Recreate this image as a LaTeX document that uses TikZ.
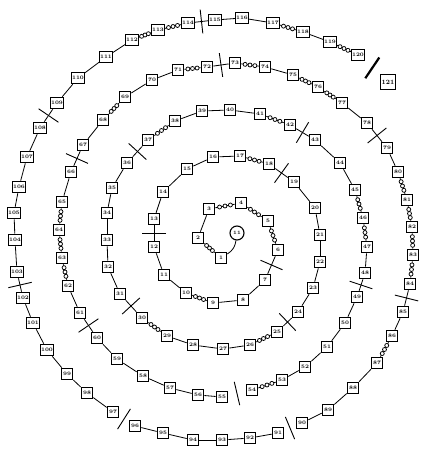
\documentclass[tikz,border=0pt]{standalone}
\begin{document}
\begin{tikzpicture}[x=1pt,y=-1pt,
  box/.style={draw,line width=1.1pt,fill=white,minimum size=11.5pt,inner sep=0.5pt,font=\fontsize{5.2}{5.5}\selectfont\bfseries},
  bigbox/.style={draw,line width=1.7pt,fill=white,minimum size=15pt,inner sep=1pt,font=\fontsize{6.5}{7}\selectfont\bfseries},
  bead/.style={draw,circle,line width=0.75pt,minimum size=4pt,inner sep=0pt,fill=white},
  link/.style={line width=0.8pt},
  tickmark/.style={pos=.5,sloped,inner sep=0pt}]
\useasboundingbox (0,0) rectangle (435,455);
% centre
\node[draw,circle,line width=1.1pt,minimum size=14pt,inner sep=0pt,font=\fontsize{5}{5}\selectfont\bfseries] (c) at (237,233) {11};
% spiral nodes
\foreach \i/\x/\y in {
 1/221/258, 2/198/238, 3/209/209, 4/241/203, 5/268/221, 6/278/250, 7/265/280, 8/243/300, 9/213/303, 10/186/293,
 11/164/275, 12/154/247, 13/154/219, 14/163/192, 15/187/169, 16/213/157, 17/240/156, 18/269/164, 19/294/182, 20/315/208,
 21/320/235, 22/320/262, 23/313/288, 24/298/312, 25/277/332, 26/250/345, 27/223/349, 28/193/345, 29/167/336, 30/142/318,
 31/120/294, 32/108/267, 33/107/240, 34/107/213, 35/112/188, 36/127/163, 37/148/140, 38/175/121, 39/202/111, 40/230/110,
 41/260/114, 42/290/125, 43/315/140, 44/340/163, 45/355/190, 46/363/218, 47/367/247, 48/365/273, 49/357/297, 50/345/323,
 51/327/347, 52/305/367, 53/282/380, 54/252/390, 55/222/397, 56/198/395, 57/170/388, 58/143/376, 59/117/359, 60/97/338,
 61/80/313, 62/68/286, 63/62/258, 64/59/230, 65/62/202, 66/71/172, 67/83/145, 68/103/120, 69/125/97, 70/152/80,
 71/178/70, 72/207/67, 73/235/63, 74/265/67, 75/293/75, 76/318/87, 77/342/103, 78/367/123, 79/387/148, 80/398/172,
 81/407/200, 82/412/227, 83/413/255, 84/410/284, 85/403/312, 86/392/336, 87/377/363, 88/353/388, 89/328/410, 90/302/423,
 91/278/433, 92/250/438, 93/222/440, 94/193/440, 95/163/433, 96/135/426, 97/113/412, 98/87/393, 99/67/374, 100/47/350,
 101/33/323, 102/23/298, 103/17/272, 104/15/240, 105/14/213, 106/19/187, 107/27/157, 108/40/128, 109/57/103, 110/78/78,
 111/106/57, 112/132/40, 113/158/30, 114/188/23, 115/215/20, 116/242/18, 117/273/23, 118/303/32, 119/330/42, 120/358/55}
  {\node[box] (n\i) at (\x,\y) {\i};}
\node[bigbox] (n121) at (388,82) {121};
% connectors
\draw[link] (c) to[bend left=25] (n1);
\foreach \i [evaluate=\i as \j using int(\i+1)] in {1,...,119}{
  \ifnum\i=54 \else\ifnum\i=90 \else\ifnum\i=96 \else
    \draw[link] (n\i) -- (n\j);
  \fi\fi\fi}
% bead chains
\foreach \i [evaluate=\i as \j using int(\i+1)] in {1,3,4,5,9,17,25,29,37,41,45,46,53,62,63,64,68,71,73,75,76,80,81,82,83,86,112,113,117,119}{
  \path (n\i) -- (n\j) node[bead,pos=.22]{} node[bead,pos=.5]{} node[bead,pos=.78]{};}
% cross marks every sixth link
\foreach \i [evaluate=\i as \j using int(\i+1)] in {6,12,18,24,30,36,42,48,54,60,66,72,78,84,90,96,102,108,114}{
  \path (n\i) -- (n\j) node[tickmark]{\rule{0.9pt}{24pt}};}
\path (n120) -- (n121) node[tickmark,rotate=8]{\rule{2.2pt}{25pt}};
\end{tikzpicture}
\end{document}
